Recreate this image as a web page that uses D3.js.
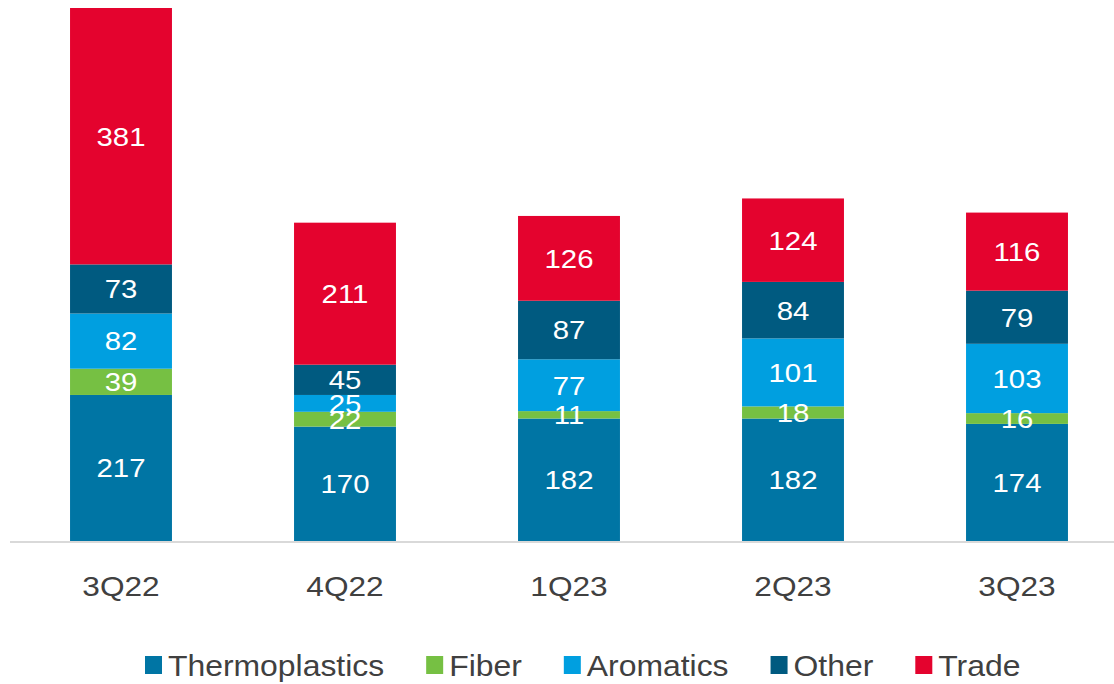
<!DOCTYPE html>
<html>
<head>
<meta charset="utf-8">
<script src="https://cdn.jsdelivr.net/npm/d3@7"></script>
<style>
  body { margin: 0; background: #fff; }
  text { font-family: "Liberation Sans", Arial, sans-serif; }
</style>
</head>
<body>
<svg id="chart" width="1114" height="684"></svg>
<script>
const quarters = ['3Q22', '4Q22', '1Q23', '2Q23', '3Q23'];
const seriesNames = ['Thermoplastics', 'Fiber', 'Aromatics', 'Other', 'Trade'];
const thermoplastics = [217, 170, 182, 182, 174];
const fiber = [39, 22, 11, 18, 16];
const aromatics = [82, 25, 77, 101, 103];
const other = [73, 45, 87, 84, 79];
const trade = [381, 211, 126, 124, 116];
const colors = ['#0075a4', '#76c043', '#009fe0', '#005a80', '#e4032e'];

const seriesValues = [thermoplastics, fiber, aromatics, other, trade];
const rows = quarters.map((q, i) => {
  const r = { quarter: q };
  seriesNames.forEach((s, j) => r[s] = seriesValues[j][i]);
  return r;
});

// the original's text is a little wider than Liberation Sans
const stretch = 1.13;

const svg = d3.select('#chart');

const x = d3.scaleBand()
  .domain(quarters)
  .range([9, 1129])
  .paddingInner(0.545)
  .paddingOuter(0.2725);

const maxTotal = d3.max(rows, r => d3.sum(seriesNames, s => r[s]));
const y = d3.scaleLinear().domain([0, maxTotal]).range([541, 8]);

const stacked = d3.stack().keys(seriesNames)(rows);

const layers = svg.selectAll('g.layer')
  .data(stacked)
  .join('g')
  .attr('class', 'layer')
  .attr('fill', (d, i) => colors[i]);

layers.selectAll('rect')
  .data(d => d)
  .join('rect')
  .attr('x', d => x(d.data.quarter))
  .attr('width', x.bandwidth())
  .attr('y', d => y(d[1]))
  .attr('height', d => y(d[0]) - y(d[1]));

// axis line
svg.append('line')
  .attr('x1', 10).attr('x2', 1114)
  .attr('y1', 542).attr('y2', 542)
  .attr('stroke', '#d9d9d9')
  .attr('stroke-width', 2);

// data labels
stacked.forEach(layer => {
  svg.append('g').selectAll('text')
    .data(layer)
    .join('text')
    .attr('transform', d => `translate(${x(d.data.quarter) + x.bandwidth() / 2},${(y(d[0]) + y(d[1])) / 2}) scale(${stretch},1)`)
    .attr('dy', '0.36em')
    .attr('text-anchor', 'middle')
    .attr('fill', '#fff')
    .attr('font-size', 26)
    .text(d => d.data[layer.key]);
});

// category labels
svg.append('g').selectAll('text')
  .data(quarters)
  .join('text')
  .attr('transform', d => `translate(${x(d) + x.bandwidth() / 2},596) scale(${stretch},1)`)
  .attr('text-anchor', 'middle')
  .attr('fill', '#404040')
  .attr('font-size', 28)
  .text(d => d);

// legend
const legendStretch = 1.1;
const legend = svg.append('g');
let lx = 145;
seriesNames.forEach((s, i) => {
  const g = legend.append('g');
  g.append('rect')
    .attr('x', lx).attr('y', 656)
    .attr('width', 17).attr('height', 18)
    .attr('fill', colors[i]);
  const t = g.append('text')
    .attr('transform', `translate(${lx + 23},676) scale(${legendStretch},1)`)
    .attr('fill', '#404040')
    .attr('font-size', 29)
    .text(s);
  lx += 23 + t.node().getComputedTextLength() * legendStretch + 42;
});
</script>
</body>
</html>
